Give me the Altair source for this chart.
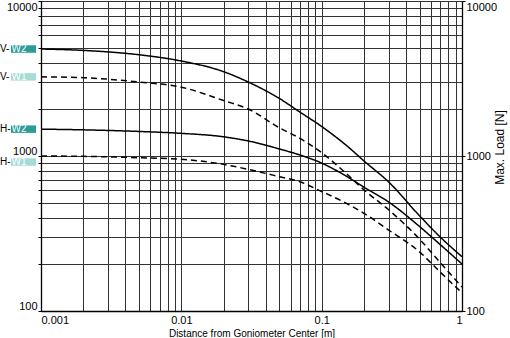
import altair as alt
import pandas as pd

# ---- data ----
distance = [0.001, 0.002, 0.005, 0.01, 0.02, 0.03, 0.05, 0.07, 0.1, 0.15, 0.2, 0.3, 0.5, 0.7, 1.0]
v_w2 = [4900, 4800, 4500, 4100, 3500, 3000, 2350, 1920, 1550, 1170, 930, 680, 410, 300, 224]
v_w1 = [3240, 3200, 3000, 2780, 2280, 2010, 1520, 1300, 1050, 770, 605, 450, 290, 205, 143]
h_w2 = [1490, 1475, 1440, 1400, 1330, 1250, 1110, 1015, 900, 740, 630, 505, 350, 268, 201]
h_w1 = [1000, 995, 975, 953, 883, 820, 735, 682, 590, 495, 427, 333, 240, 178, 131]

series_names = ["V-W2", "V-W1", "H-W2", "H-W1"]
series_prefix = ["V-", "V-", "H-", "H-"]
series_tag = ["W2", "W1", "W2", "W1"]
series_dash = ["solid", "dashed", "solid", "dashed"]
series_values = [v_w2, v_w1, h_w2, h_w1]

x_grid = [0.001, 0.002, 0.003, 0.004, 0.005, 0.006, 0.007, 0.008, 0.009,
          0.01, 0.02, 0.03, 0.04, 0.05, 0.06, 0.07, 0.08, 0.09,
          0.1, 0.2, 0.3, 0.4, 0.5, 0.6, 0.7, 0.8, 0.9, 1.0]
y_grid = [100, 200, 300, 400, 500, 600, 700, 800, 900,
          1000, 2000, 3000, 4000, 5000, 6000, 7000, 8000, 9000, 10000]

rows = []
for name, dash, vals in zip(series_names, series_dash, series_values):
    for d, v in zip(distance, vals):
        rows.append({"series": name, "style": dash, "d": d, "load": v})
df = pd.DataFrame(rows)

lab = pd.DataFrame({
    "series": series_names,
    "prefix": series_prefix,
    "tag": series_tag,
    "load": [vals[0] for vals in series_values],
})

FONT = "Liberation Sans"

xscale = alt.Scale(type="log", domain=[0.001, 1])
yscale = alt.Scale(type="log", domain=[100, 10000])

x_enc = alt.X("d:Q", scale=xscale,
              axis=alt.Axis(values=x_grid, grid=True, gridColor="#333", gridWidth=1,
                            title="Distance from Goniometer Center [m]",
                            labelExpr="indexof([0.001,0.01,0.1,1], datum.value) >= 0 ? datum.label : ''",
                            format="~g", tickSize=0, labelPadding=3,
                            labelFont=FONT, labelFontSize=11, labelColor="#000",
                            titleFont=FONT, titleFontSize=10, titleFontWeight="normal",
                            titleColor="#000", titlePadding=3,
                            domainColor="#000", domainWidth=1.3))

top_cond = {"condition": {"test": "datum.value >= 10000", "value": "top"}, "value": "bottom"}
top_cond_r = {"condition": {"test": "datum.value >= 10000", "value": "top"}, "value": "middle"}

y_left = alt.Y("load:Q", scale=yscale,
               axis=alt.Axis(values=y_grid, grid=True, gridColor="#333", gridWidth=1,
                             title=None, orient="left",
                             labelExpr="indexof([100,1000,10000], datum.value) >= 0 ? datum.label : ''",
                             format="d", tickSize=3, tickColor="#000", labelPadding=1,
                             labelBaseline=top_cond,
                             labelFont=FONT, labelFontSize=11, labelColor="#000",
                             domainColor="#000", domainWidth=1.3))

y_right = alt.Y("load:Q", scale=yscale,
                axis=alt.Axis(values=[100, 1000, 10000], grid=False, orient="right",
                              title="Max. Load [N]", titleAngle=270, titleY=146,
                              format="d", tickSize=3, tickColor="#000", labelPadding=1,
                              labelBaseline=top_cond_r,
                              labelFont=FONT, labelFontSize=11, labelColor="#000",
                              titleFont=FONT, titleFontSize=12, titleFontWeight="normal",
                              titleColor="#000", titlePadding=10,
                              domainColor="#000", domainWidth=1.3))

y_plain = alt.Y("load:Q", scale=yscale, axis=None)

lines = alt.Chart(df).mark_line(color="#000", strokeWidth=1.5, interpolate="monotone", clip=True).encode(
    x=x_enc,
    y=y_left,
    detail="series:N",
    strokeDash=alt.StrokeDash("style:N",
                              scale=alt.Scale(domain=["solid", "dashed"], range=[[1, 0], [6, 4]]),
                              legend=None),
)

right_axis = alt.Chart(df).mark_line(opacity=0).encode(
    x=x_enc,
    y=y_right,
    detail="series:N",
)

tag_colors = alt.Color("tag:N", scale=alt.Scale(domain=["W2", "W1"], range=["#2b9c97", "#a6dbd8"]),
                       legend=None)


def label_layers(data_filter, dy):
    base = alt.Chart(lab).transform_filter(data_filter)
    prefix_text = base.mark_text(align="left", baseline="middle", font=FONT,
                                 fontSize=10, color="#000", dy=dy).encode(
        x=alt.value(-41), y=y_plain, text="prefix:N")
    boxes = base.mark_point(shape="M-1,-0.3L1,-0.3L1,0.3L-1,0.3Z", filled=True,
                            size=625, opacity=1, strokeWidth=0, yOffset=dy).encode(
        x=alt.value(-17.5), y=y_plain, color=tag_colors)
    tag_text = base.mark_text(align="left", baseline="middle", font=FONT,
                              fontSize=10, color="#fff", dy=dy).encode(
        x=alt.value(-29.5), y=y_plain, text="tag:N")
    return [boxes, prefix_text, tag_text]


main_labels = label_layers("datum.series != 'H-W1'", 0)
low_labels = label_layers("datum.series == 'H-W1'", 6)

chart = alt.layer(lines, right_axis, *main_labels, *low_labels).resolve_scale(
    y="shared"
).resolve_axis(
    y="independent"
).properties(
    width=421, height=310,
    autosize=alt.AutoSizeParams(type="none"),
    padding={"left": 41, "top": 1, "right": 48, "bottom": 27},
    background="#ffffff",
).configure_view(stroke="#000", strokeWidth=1)

chart.save("out.html", embed_options={"renderer": "svg", "actions": False})
